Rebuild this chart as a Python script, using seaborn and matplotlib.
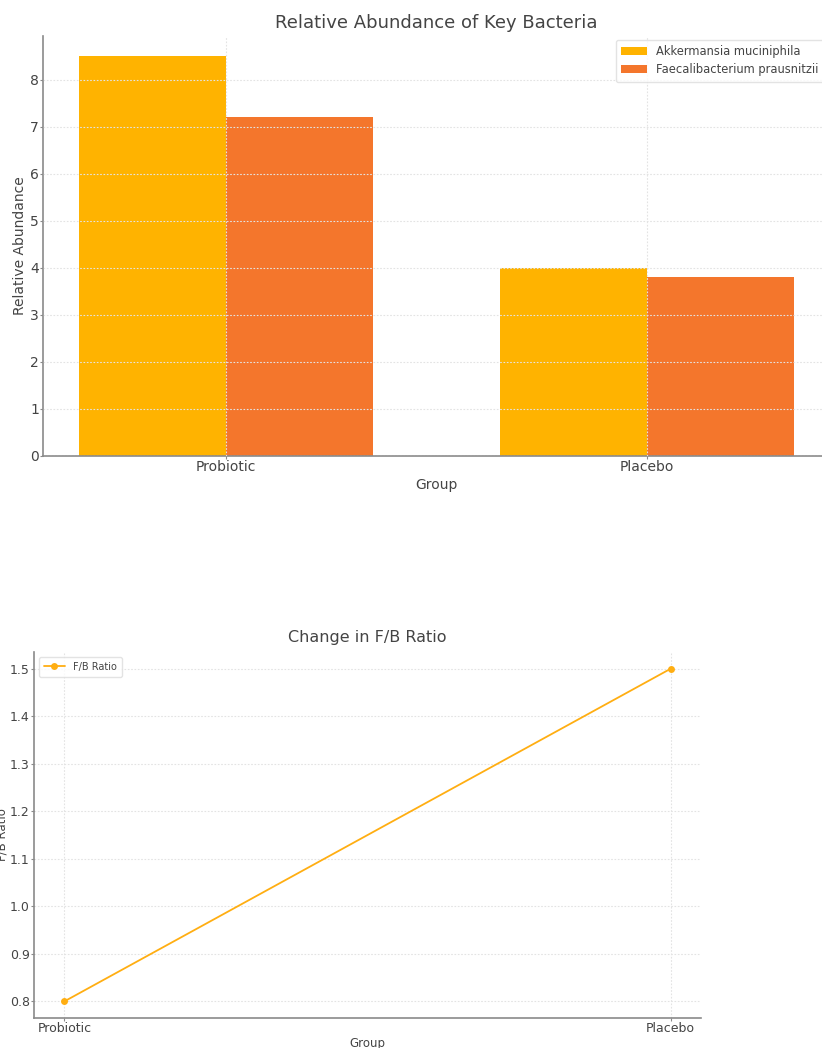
import matplotlib
matplotlib.use("Agg")
import matplotlib.pyplot as plt
import seaborn as sns
import pandas as pd

# Data
groups = ["Probiotic", "Placebo"]
akkermansia = [8.5, 4.0]
faecalibacterium = [7.2, 3.8]
fb_ratio = [0.8, 1.5]
species = ["Akkermansia muciniphila", "Faecalibacterium prausnitzii"]

bar_colors = ["#FFB300", "#F4762C"]
line_color = "#FFAE12"
text_color = "#444444"
spine_color = "#8a8a8a"
grid_kw = dict(color="#e3e3e3", linestyle=(0, (1.5, 1.5)), linewidth=0.8)

sns.set_theme(style="white")
plt.rcParams["font.family"] = ["DejaVu Sans"]
plt.rcParams["text.color"] = text_color
plt.rcParams["axes.labelcolor"] = text_color
plt.rcParams["xtick.color"] = text_color
plt.rcParams["ytick.color"] = text_color

abund = pd.DataFrame({
    "Group": groups * 2,
    "Species": [species[0]] * 2 + [species[1]] * 2,
    "Relative Abundance": akkermansia + faecalibacterium,
})
ratio = pd.DataFrame({"Group": groups, "F/B Ratio": fb_ratio})

fig = plt.figure(figsize=(8.22, 10.48), dpi=100)

# Top panel: grouped bars
ax1 = fig.add_axes([0.0523, 0.5649, 0.9574, 0.4007])
sns.barplot(data=abund, x="Group", y="Relative Abundance", hue="Species",
            palette=bar_colors, saturation=1, width=0.7, linewidth=0,
            ax=ax1)
ax1.set_xlim(-0.435, 1.435)
ax1.set_ylim(0, 8.925)
ax1.set_yticks(range(0, 9))
ax1.grid(True, **grid_kw)
ax1.set_axisbelow(False)
for s in ["top", "right"]:
    ax1.spines[s].set_visible(False)
for s in ["left", "bottom"]:
    ax1.spines[s].set_color(spine_color)
    ax1.spines[s].set_linewidth(1.2)
ax1.tick_params(axis="both", labelsize=10, length=2, width=0.8,
                color=spine_color, left=True, bottom=True, pad=1)
ax1.set_title("Relative Abundance of Key Bacteria", fontsize=13,
              color=text_color, pad=6)
ax1.set_xlabel("Group", fontsize=10, labelpad=3)
ax1.set_ylabel("Relative Abundance", fontsize=10, labelpad=2)
leg1 = ax1.legend(loc="upper right", fontsize=8.3, frameon=True,
                  handlelength=2.2, borderpad=0.5, labelspacing=0.4,
                  bbox_to_anchor=(1.0, 1.005))
leg1.get_frame().set_edgecolor("#dddddd")
for t in leg1.get_texts():
    t.set_color(text_color)

# Bottom panel: ratio line
ax2 = fig.add_axes([0.0414, 0.0286, 0.8114, 0.3492])
sns.lineplot(data=ratio, x="Group", y="F/B Ratio", marker="o",
             markersize=5, markeredgewidth=0, color=line_color,
             linewidth=1.3, label="F/B Ratio", ax=ax2)
ax2.set_ylim(0.765, 1.535)
ax2.grid(True, **grid_kw)
for s in ["top", "right"]:
    ax2.spines[s].set_visible(False)
for s in ["left", "bottom"]:
    ax2.spines[s].set_color(spine_color)
    ax2.spines[s].set_linewidth(1.2)
ax2.tick_params(axis="both", labelsize=9, length=2, width=0.8,
                color=spine_color, left=True, bottom=True, pad=1)
ax2.set_title("Change in F/B Ratio", fontsize=11.5, color=text_color, pad=7)
ax2.set_xlabel("Group", fontsize=8.5, labelpad=1)
ax2.set_ylabel("F/B Ratio", fontsize=8.5, labelpad=1)
leg2 = ax2.legend(loc="upper left", fontsize=7, frameon=True,
                  handlelength=2.2, borderpad=0.5)
leg2.get_frame().set_edgecolor("#dddddd")
for t in leg2.get_texts():
    t.set_color(text_color)

fig.savefig("out.png", dpi=100)
